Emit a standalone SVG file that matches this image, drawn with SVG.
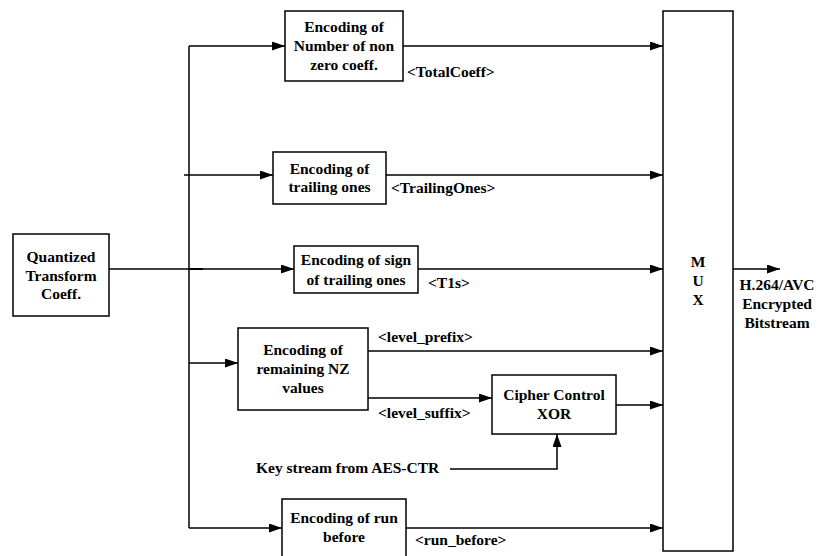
<svg xmlns="http://www.w3.org/2000/svg" width="819" height="556" viewBox="0 0 819 556">
<defs>
<style>
.box{fill:#fff;stroke:#000;stroke-width:1.5}
.ln{fill:none;stroke:#000;stroke-width:1.5}
.arr{marker-end:url(#ah)}
text{font-family:"Liberation Serif","Times New Roman",serif;font-weight:bold;font-size:15.5px;fill:#000}
.c{text-anchor:middle}
</style>
<marker id="ah" markerUnits="userSpaceOnUse" markerWidth="14" markerHeight="10" refX="13" refY="4.5" orient="auto">
<path d="M0,0 L13,4.5 L0,9 z" fill="#000"/>
</marker>
</defs>
<rect width="819" height="556" fill="#fff"/>
<g id="connectors">
<path class="ln" d="M189,46 V528"/>
<path class="ln arr" d="M189,46 H285"/>
<path class="ln arr" d="M184,175 H273"/>
<path class="ln arr" d="M109,269 H294"/>
<path class="ln" d="M189,269 H203" style="stroke-width:2"/>
<path class="ln arr" d="M189,363 H238"/>
<path class="ln arr" d="M189,528 H282"/>
<path class="ln arr" d="M403,46 H663"/>
<path class="ln arr" d="M386,175 H663"/>
<path class="ln arr" d="M418,269 H663"/>
<path class="ln arr" d="M368,351 H663"/>
<path class="ln arr" d="M368,398 H492"/>
<path class="ln arr" d="M616,405 H663"/>
<path class="ln arr" d="M450,469 H557 V434"/>
<path class="ln arr" d="M403,528 H663"/>
<path class="ln arr" d="M733,269 H780"/>
<text x="407" y="77">&lt;TotalCoeff&gt;</text>
<text x="391" y="193">&lt;TrailingOnes&gt;</text>
<text x="428" y="288">&lt;T1s&gt;</text>
<text x="378" y="342">&lt;level_prefix&gt;</text>
<text x="378" y="418">&lt;level_suffix&gt;</text>
<text x="256" y="473">Key stream from AES-CTR</text>
<text x="415" y="545">&lt;run_before&gt;</text>
</g>
<g id="quantized">
<rect class="box" x="13" y="234" width="96" height="82"/>
<text class="c" x="61" y="262">Quantized</text>
<text class="c" x="61" y="281">Transform</text>
<text class="c" x="61" y="299">Coeff.</text>
</g>
<g id="enc-total">
<rect class="box" x="285" y="11" width="118" height="70"/>
<text class="c" x="344" y="32">Encoding of</text>
<text class="c" x="344" y="51">Number of non</text>
<text class="c" x="344" y="70">zero coeff.</text>
</g>
<g id="enc-trailing">
<rect class="box" x="273" y="152" width="113" height="52"/>
<text class="c" x="329.5" y="174">Encoding of</text>
<text class="c" x="329.5" y="192">trailing ones</text>
</g>
<g id="enc-sign">
<rect class="box" x="294" y="246" width="124" height="47"/>
<text class="c" x="356" y="265">Encoding of sign</text>
<text class="c" x="356" y="285">of trailing ones</text>
</g>
<g id="enc-remaining">
<rect class="box" x="238" y="328" width="130" height="82"/>
<text class="c" x="303" y="355">Encoding of</text>
<text class="c" x="303" y="374">remaining NZ</text>
<text class="c" x="303" y="393">values</text>
</g>
<g id="cipher">
<rect class="box" x="492" y="375" width="124" height="59"/>
<text class="c" x="554" y="400">Cipher Control</text>
<text class="c" x="554" y="419">XOR</text>
</g>
<g id="enc-run">
<rect class="box" x="282" y="499" width="124" height="62"/>
<text class="c" x="344" y="523">Encoding of run</text>
<text class="c" x="344" y="542">before</text>
</g>
<g id="mux">
<rect class="box" x="663" y="11" width="70" height="540"/>
<text class="c" x="698" y="267">M</text>
<text class="c" x="698" y="286">U</text>
<text class="c" x="698" y="305">X</text>
</g>
<g id="output">
<text class="c" x="777" y="290">H.264/AVC</text>
<text class="c" x="777" y="309">Encrypted</text>
<text class="c" x="777" y="328">Bitstream</text>
</g>
</svg>
